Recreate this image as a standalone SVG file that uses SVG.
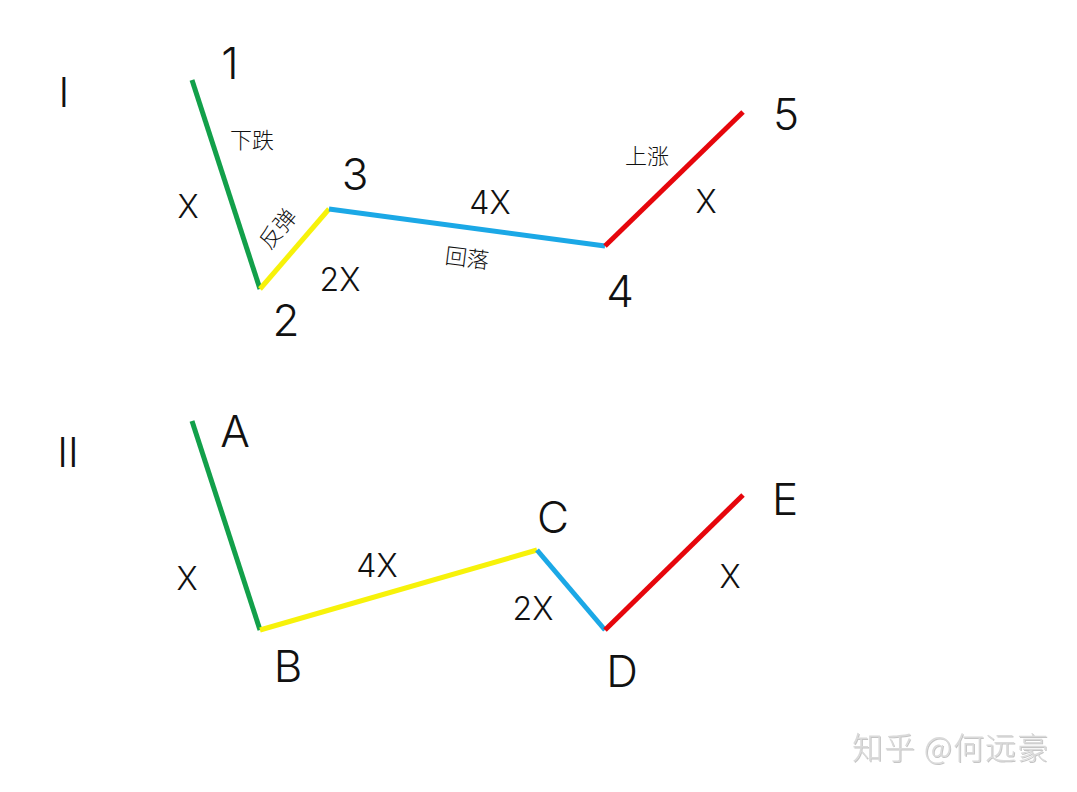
<svg xmlns="http://www.w3.org/2000/svg" width="1077" height="792" viewBox="0 0 1077 792">
<style>
.bg{fill:#ffffff}
.seg{fill:none;stroke-width:5;stroke-linecap:butt}
.g{stroke:#12a04a}
.y{stroke:#f7f20a}
.b{stroke:#1ba8e6}
.r{stroke:#e6060c}
.big{font-family:Inter,"Noto Sans","Liberation Sans",sans-serif;font-weight:300;font-size:44px;fill:#111;text-anchor:middle}
.mid{font-family:Inter,"Noto Sans","Liberation Sans",sans-serif;font-weight:300;font-size:32px;fill:#111;text-anchor:middle}
.roman{font-family:Inter,"Liberation Sans",sans-serif;font-weight:300;font-size:41px;fill:#111;text-anchor:middle}
.cn{font-family:"Noto Sans CJK SC",sans-serif;font-weight:300;font-size:22px;fill:#111;text-anchor:middle}
.wm{font-family:"Noto Sans CJK SC",sans-serif;font-weight:300;font-size:31px;letter-spacing:1px;fill:#dadada;text-anchor:end}
</style>
<defs>
<filter id="emboss" x="-5%" y="-20%" width="110%" height="140%">
<feDropShadow dx="1" dy="1" stdDeviation="0.3" flood-color="#8a8a8a" flood-opacity="0.5"/>
</filter>
</defs>
<rect class="bg" x="0" y="0" width="1077" height="792"/>
<g id="connectors">
  <line class="seg g" x1="192" y1="80" x2="260" y2="289"/>
  <line class="seg y" x1="260" y1="289" x2="329" y2="209"/>
  <line class="seg b" x1="329" y1="209" x2="605" y2="246"/>
  <line class="seg r" x1="605" y1="246" x2="743" y2="112"/>
  <line class="seg g" x1="192" y1="421" x2="260" y2="630"/>
  <line class="seg y" x1="260" y1="630" x2="537" y2="550"/>
  <line class="seg b" x1="537" y1="550" x2="605" y2="630"/>
  <line class="seg r" x1="605" y1="630" x2="743" y2="495"/>
</g>
<g id="section-I">
  <text class="roman" x="64" y="107">I</text>
  <g id="n1"><text class="big" x="230" y="79">1</text></g>
  <g id="n2"><text class="big" x="286" y="336">2</text></g>
  <g id="n3"><text class="big" x="355" y="190">3</text></g>
  <g id="n4"><text class="big" x="620" y="307">4</text></g>
  <g id="n5"><text class="big" x="786" y="130">5</text></g>
  <text class="cn" x="252" y="148">下跌</text>
  <text class="mid" x="188" y="218">X</text>
  <text class="cn" transform="translate(284,234) rotate(-50)" x="0" y="0">反弹</text>
  <text class="mid" x="340" y="291">2X</text>
  <text class="mid" x="490" y="214">4X</text>
  <text class="cn" transform="translate(466,266) rotate(7)" x="0" y="0">回落</text>
  <text class="cn" x="647" y="164">上涨</text>
  <text class="mid" x="706" y="213">X</text>
</g>
<g id="section-II">
  <text class="roman" x="68" y="467">II</text>
  <g id="nA"><text class="big" x="235" y="447">A</text></g>
  <g id="nB"><text class="big" x="288" y="682">B</text></g>
  <g id="nC"><text class="big" x="553" y="533">C</text></g>
  <g id="nD"><text class="big" x="622" y="687">D</text></g>
  <g id="nE"><text class="big" x="785" y="515">E</text></g>
  <text class="mid" x="187" y="590">X</text>
  <text class="mid" x="377" y="577">4X</text>
  <text class="mid" x="533" y="620">2X</text>
  <text class="mid" x="730" y="588">X</text>
</g>
<text class="wm" x="1049" y="759" filter="url(#emboss)">知乎 @何远豪</text>
</svg>
